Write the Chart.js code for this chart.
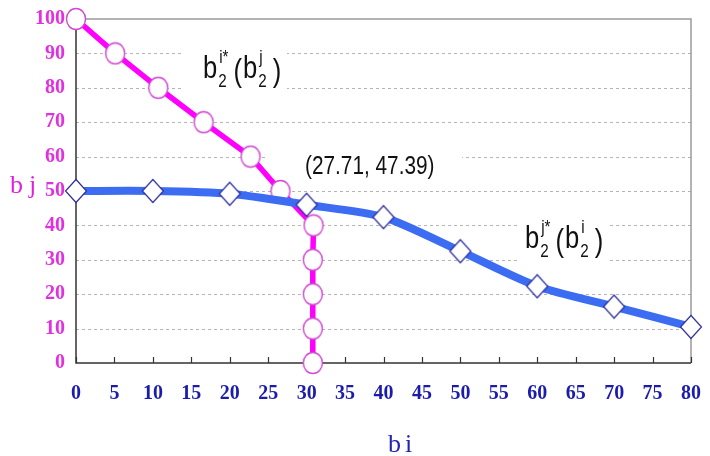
<!DOCTYPE html>
<html>
<head>
<meta charset="utf-8">
<script src="https://cdn.jsdelivr.net/npm/chart.js@4.4.1/dist/chart.umd.min.js"></script>
<style>
  html, body { margin: 0; padding: 0; background: #fff; }
  #wrap { width: 710px; height: 456px; }
</style>
</head>
<body>
<div id="wrap"><canvas id="myChart" width="710" height="456"></canvas></div>
<script>
// tick values
var xTickValues = [0, 5, 10, 15, 20, 25, 30, 35, 40, 45, 50, 55, 60, 65, 70, 75, 80];
var yTickValues = [0, 10, 20, 30, 40, 50, 60, 70, 80, 90, 100];

// b2 i*(b2 j)  -- magenta curve
var biStarX = [0, 5.1, 10.7, 16.6, 22.7, 26.6, 30.9, 30.8, 30.8, 30.8, 30.8];
var biStarY = [100, 90, 80, 70, 60, 50, 40, 30, 20, 10, 0];

// b2 j*(b2 i)  -- blue curve
var bjStarX = [0, 10, 20, 30, 40, 50, 60, 70, 80];
var bjStarY = [50, 50, 49.2, 46, 42.4, 32.5, 22.3, 16.4, 10.5];

var crossLabel = '(27.71, 47.39)';

var MAGENTA = '#ff00ff';
var BLUE = '#3c6cf2';
var TICK_PINK = '#e030e0';
var TICK_NAVY = '#1c1cac';

function toPoints(xs, ys) {
  var out = [];
  for (var i = 0; i < xs.length; i++) out.push({x: xs[i], y: ys[i]});
  return out;
}

// marker images
function makeEllipse() {
  var c = document.createElement('canvas');
  c.width = 22; c.height = 24;
  var g = c.getContext('2d');
  g.beginPath();
  g.ellipse(11, 12, 9.5, 10.5, 0, 0, Math.PI * 2);
  g.fillStyle = '#fff'; g.fill();
  g.lineWidth = 1.4; g.strokeStyle = '#d048d0'; g.stroke();
  return c;
}
function makeDiamond() {
  var c = document.createElement('canvas');
  c.width = 24; c.height = 26;
  var g = c.getContext('2d');
  g.beginPath();
  g.moveTo(12, 1.5); g.lineTo(22.5, 13); g.lineTo(12, 24.5); g.lineTo(1.5, 13); g.closePath();
  g.fillStyle = '#fff'; g.fill();
  g.lineWidth = 1.2; g.strokeStyle = '#2c2c9c'; g.stroke();
  return c;
}

var SANS = '"Liberation Sans", Arial, sans-serif';
var SQUEEZE = 0.8;

// draws text condensed horizontally, left edge at x
function narrowText(ctx, txt, x, y) {
  ctx.save();
  ctx.translate(x, y);
  ctx.scale(SQUEEZE, 1);
  ctx.fillText(txt, 0, 0);
  ctx.restore();
  return ctx.measureText(txt).width * SQUEEZE;
}

function drawFn(ctx, x, base, sup1, sup2) {
  var big = '32px ' + SANS, small = '19px ' + SANS;
  ctx.fillStyle = '#111';
  ctx.textBaseline = 'alphabetic';
  ctx.textAlign = 'left';
  function part(sup) {
    ctx.font = big;
    x += narrowText(ctx, 'b', x, base) + 1;
    ctx.font = small;
    var w1 = narrowText(ctx, '2', x, base + 9);
    var w2 = narrowText(ctx, sup, x + 1, base - 15);
    x += Math.max(w1, w2);
  }
  part(sup1);
  x += 6;
  ctx.font = big;
  x += narrowText(ctx, '(', x, base + 3) + 1;
  part(sup2);
  x += 6;
  ctx.font = big;
  narrowText(ctx, ')', x, base + 3);
}

var decor = {
  id: 'decor',
  beforeDatasetsDraw: function(chart) {
    var ctx = chart.ctx, a = chart.chartArea;
    var xs = chart.scales.x, ys = chart.scales.y;
    ctx.save();
    // dashed grid lines
    ctx.strokeStyle = '#b4b4b4';
    ctx.lineWidth = 1;
    ctx.setLineDash([3, 3]);
    yTickValues.forEach(function(v) {
      if (v === 0 || v === 100) return;
      var py = Math.round(ys.getPixelForValue(v)) + 0.5;
      ctx.beginPath(); ctx.moveTo(a.left, py); ctx.lineTo(a.right, py); ctx.stroke();
    });
    ctx.setLineDash([]);
    // top / right frame
    ctx.strokeStyle = '#9a9a9a';
    ctx.lineWidth = 1.5;
    ctx.beginPath();
    ctx.moveTo(a.left, a.top); ctx.lineTo(a.right, a.top); ctx.lineTo(a.right, a.bottom);
    ctx.stroke();
    // left / bottom axes
    ctx.strokeStyle = '#333';
    ctx.lineWidth = 1.5;
    ctx.beginPath();
    ctx.moveTo(a.left, a.top); ctx.lineTo(a.left, a.bottom); ctx.lineTo(a.right, a.bottom);
    ctx.stroke();
    // inward tick marks on x axis
    ctx.lineWidth = 1.2;
    xTickValues.forEach(function(v) {
      var px = Math.round(xs.getPixelForValue(v)) + 0.5;
      ctx.beginPath(); ctx.moveTo(px, a.bottom); ctx.lineTo(px, a.bottom - 6); ctx.stroke();
    });

    // annotation backgrounds
    ctx.fillStyle = '#fff';
    ctx.fillRect(181, 38, 106, 54);
    ctx.fillRect(265, 140, 197, 40);
    ctx.fillRect(520, 210, 87, 52);

    drawFn(ctx, 203, 78, 'i*', 'j');
    drawFn(ctx, 525, 248, 'j*', 'i');

    ctx.font = '26px ' + SANS;
    ctx.fillStyle = '#111';
    ctx.textAlign = 'left';
    ctx.textBaseline = 'alphabetic';
    narrowText(ctx, crossLabel, 305, 174);

    // axis titles
    ctx.font = '26px "Liberation Serif", "DejaVu Serif", serif';
    ctx.fillStyle = '#dd22dd';
    ctx.fillText('b', 10, 193);
    ctx.fillText('j', 29, 193);
    ctx.fillStyle = '#2424b4';
    ctx.fillText('b', 388, 452);
    ctx.fillText('i', 405, 452);
    ctx.restore();
  }
};

var ellipseImg = makeEllipse();
var diamondImg = makeDiamond();

var ctx = document.getElementById('myChart');
var myChart = new Chart(ctx, {
  type: 'scatter',
  data: {
    datasets: [
      {
        label: 'bj*',
        data: toPoints(bjStarX, bjStarY),
        showLine: true,
        clip: false,
        borderColor: BLUE,
        borderWidth: 8,
        tension: 0.25,
        pointStyle: diamondImg,
        pointRadius: 11
      },
      {
        label: 'bi*',
        data: toPoints(biStarX, biStarY),
        showLine: true,
        clip: false,
        borderColor: MAGENTA,
        borderWidth: 5.5,
        tension: 0,
        pointStyle: ellipseImg,
        pointRadius: 11
      }
    ]
  },
  options: {
    responsive: false,
    animation: false,
    events: [],
    layout: { padding: { top: 9, right: 11, left: 0, bottom: 0 } },
    plugins: { legend: { display: false }, tooltip: { enabled: false } },
    scales: {
      x: {
        type: 'linear',
        min: 0, max: 80,
        afterBuildTicks: function(s) { s.ticks = xTickValues.map(function(v) { return {value: v}; }); },
        afterFit: function(s) { s.height = 93; s.paddingLeft = 0; s.paddingRight = 0; },
        grid: { display: false, drawTicks: false },
        border: { display: false },
        ticks: {
          color: TICK_NAVY,
          padding: 19,
          maxRotation: 0,
          autoSkip: false,
          font: { family: '"Liberation Serif", "DejaVu Serif", serif', size: 20, weight: 'bold' }
        }
      },
      y: {
        min: 0, max: 100,
        afterBuildTicks: function(s) { s.ticks = yTickValues.map(function(v) { return {value: v}; }); },
        afterFit: function(s) { s.width = 76; s.paddingTop = 0; s.paddingBottom = 0; },
        grid: { display: false, drawTicks: false },
        border: { display: false },
        ticks: {
          color: TICK_PINK,
          padding: 11,
          autoSkip: false,
          font: { family: '"Liberation Serif", "DejaVu Serif", serif', size: 20, weight: 'bold' }
        }
      }
    }
  },
  plugins: [decor]
});
</script>
</body>
</html>
